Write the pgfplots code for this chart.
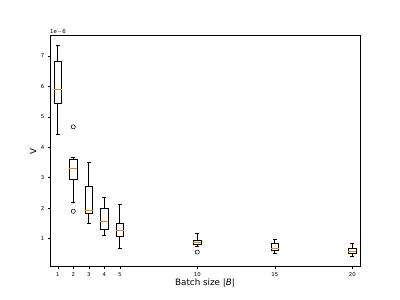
\documentclass[border=0pt]{standalone}
\usepackage{fontspec}
\setmainfont{DejaVu Sans}
\usepackage{pgfplots}
\pgfplotsset{compat=1.18}
\usepgfplotslibrary{statistics}
\definecolor{mplorange}{HTML}{FF7F0E}
\begin{document}
\begin{tikzpicture}[x=1bp,y=1bp]
\path[use as bounding box] (0,0) rectangle (400,300);
\begin{axis}[
  at={(50bp,33.3bp)}, anchor=south west,
  scale only axis, width=310bp, height=231bp,
  xmin=0.5, xmax=20.5, ymin=0.08, ymax=7.66,
  xtick={1,2,3,4,5,10,15,20},
  ytick={1,2,3,4,5,6,7},
  tick pos=left, tick align=outside,
  major tick length=2.2bp,
  every tick/.style={black, line width=0.5bp},
  axis line style={line width=0.5bp},
  /pgf/number format/assume math mode=true,
  tick label style={font=\fontsize{5.4}{6}\selectfont},
  xlabel={Batch size |\textit{B}|}, ylabel={V},
  label style={font=\fontsize{8.8}{10}\selectfont},
  xlabel style={at={(axis description cs:0.5,0)}, anchor=north, yshift=-9bp},
  ylabel style={at={(axis description cs:0,0.5)}, anchor=south, yshift=10bp},
  boxplot/draw direction=y,
  boxplot/box extend=0.5,
  boxplot/whisker extend=0.25,
  boxplot/every box/.style={draw=black, line width=0.65bp},
  boxplot/every whisker/.style={draw=black, line width=0.65bp},
  boxplot/every median/.style={draw=mplorange, line width=0.9bp},
  clip=false,
]
\addplot[black, mark=o, mark size=2.1bp, mark options={line width=0.55bp},
  boxplot prepared={draw position=1, lower whisker=4.42, lower quartile=5.44, median=5.91, upper quartile=6.82, upper whisker=7.33}]
  table[row sep=\\,y index=0]{\\};
\addplot[black, mark=o, mark size=2.1bp, mark options={line width=0.55bp},
  boxplot prepared={draw position=2, lower whisker=2.20, lower quartile=2.96, median=3.29, upper quartile=3.60, upper whisker=3.68}]
  table[row sep=\\,y index=0]{4.67\\ 1.90\\};
\addplot[black, mark=o, mark size=2.1bp, mark options={line width=0.55bp},
  boxplot prepared={draw position=3, lower whisker=1.49, lower quartile=1.82, median=1.92, upper quartile=2.71, upper whisker=3.51}]
  table[row sep=\\,y index=0]{\\};
\addplot[black, mark=o, mark size=2.1bp, mark options={line width=0.55bp},
  boxplot prepared={draw position=4, lower whisker=1.12, lower quartile=1.31, median=1.58, upper quartile=1.99, upper whisker=2.34}]
  table[row sep=\\,y index=0]{\\};
\addplot[black, mark=o, mark size=2.1bp, mark options={line width=0.55bp},
  boxplot prepared={draw position=5, lower whisker=0.68, lower quartile=1.07, median=1.26, upper quartile=1.49, upper whisker=2.12}]
  table[row sep=\\,y index=0]{\\};
\addplot[black, mark=o, mark size=2.1bp, mark options={line width=0.55bp},
  boxplot prepared={draw position=10, lower whisker=0.76, lower quartile=0.82, median=0.89, upper quartile=0.95, upper whisker=1.16}]
  table[row sep=\\,y index=0]{0.56\\};
\addplot[black, mark=o, mark size=2.1bp, mark options={line width=0.55bp},
  boxplot prepared={draw position=15, lower whisker=0.52, lower quartile=0.61, median=0.67, upper quartile=0.85, upper whisker=0.99}]
  table[row sep=\\,y index=0]{\\};
\addplot[black, mark=o, mark size=2.1bp, mark options={line width=0.55bp},
  boxplot prepared={draw position=20, lower whisker=0.42, lower quartile=0.51, median=0.58, upper quartile=0.68, upper whisker=0.84}]
  table[row sep=\\,y index=0]{\\};
\node[anchor=south west, inner sep=0pt, font=\fontsize{5.4}{6}\selectfont] at (rel axis cs:0,1) [yshift=1.5bp] {1e$-$6};
\end{axis}
\end{tikzpicture}
\end{document}
